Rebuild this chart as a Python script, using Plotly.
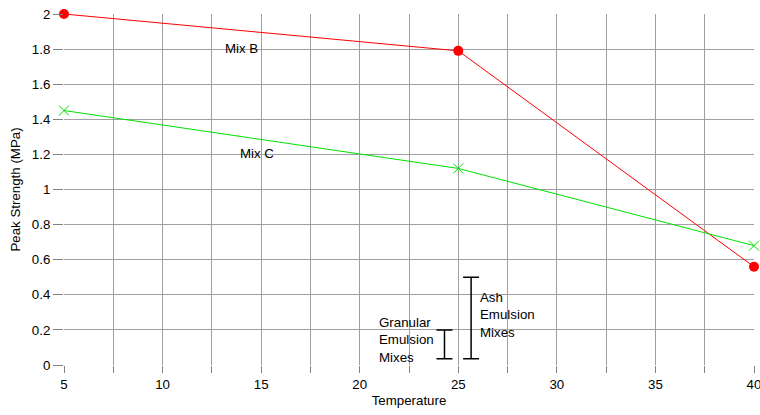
import plotly.graph_objects as go

temps = [5, 25, 40]
mix_b = [2.0, 1.79, 0.56]
mix_c = [1.45, 1.12, 0.68]

# range bars: x position, bottom, top
gran_x, gran_lo, gran_hi = 24.3, 0.035, 0.2
ash_x, ash_lo, ash_hi = 25.65, 0.035, 0.5

font = "Liberation Sans, Arial, sans-serif"
fs = 13.3

fig = go.Figure()
fig.add_trace(go.Scatter(x=temps, y=mix_b, mode="lines+markers",
                         line=dict(color="#ff0000", width=1),
                         marker=dict(symbol="circle", size=10, color="#ff0000"),
                         cliponaxis=False, showlegend=False))
fig.add_trace(go.Scatter(x=temps, y=mix_c, mode="lines+markers",
                         line=dict(color="#00e000", width=1),
                         marker=dict(symbol="x-thin", size=10,
                                     line=dict(color="#00e000", width=1)),
                         cliponaxis=False, showlegend=False))
for bx, lo, hi in [(gran_x, gran_lo, gran_hi), (ash_x, ash_lo, ash_hi)]:
    fig.add_trace(go.Scatter(x=[bx], y=[hi], mode="markers",
                             marker=dict(size=1, color="rgba(0,0,0,0)"),
                             error_y=dict(type="data", symmetric=False, array=[0],
                                          arrayminus=[hi - lo], color="black",
                                          thickness=1.5, width=8),
                             cliponaxis=False, showlegend=False))

annots = [
    dict(x=14.0, y=1.806, text="Mix B", xanchor="center", yanchor="middle"),
    dict(x=14.78, y=1.206, text="Mix C", xanchor="center", yanchor="middle"),
    dict(x=20.88, y=0.295, text="Granular<br>Emulsion<br>Mixes", xanchor="left", yanchor="top", align="left"),
    dict(x=26.0, y=0.437, text="Ash<br>Emulsion<br>Mixes", xanchor="left", yanchor="top", align="left"),
]
for a in annots:
    fig.add_annotation(**a, showarrow=False, font=dict(family=font, size=fs, color="black"))

fig.update_layout(
    width=760, height=415,
    margin=dict(l=64, r=6, t=14, b=50),
    plot_bgcolor="white", paper_bgcolor="white",
    font=dict(family=font, size=fs, color="black"),
    xaxis=dict(range=[5, 40], tickmode="linear", tick0=5, dtick=5,
               ticklabeloverflow="allow", automargin=False,
               showgrid=True, gridcolor="#a0a0a0", gridwidth=1,
               ticks="outside", ticklen=7, tickcolor="#808080",
               minor=dict(dtick=2.5, showgrid=True, gridcolor="#a0a0a0",
                          ticks="outside", ticklen=7, tickcolor="#808080"),
               zeroline=False, showline=False,
               title=dict(text="Temperature", font=dict(size=fs), standoff=4)),
    yaxis=dict(range=[0, 2], tickmode="linear", tick0=0, dtick=0.2,
               ticklabeloverflow="allow", automargin=False,
               showgrid=True, gridcolor="#a0a0a0", gridwidth=1,
               ticks="outside", ticklen=10, tickcolor="#808080",
               zeroline=False, showline=False,
               title=dict(text="Peak Strength (MPa)", font=dict(size=fs), standoff=8)),
)
fig.write_html("out.html")
